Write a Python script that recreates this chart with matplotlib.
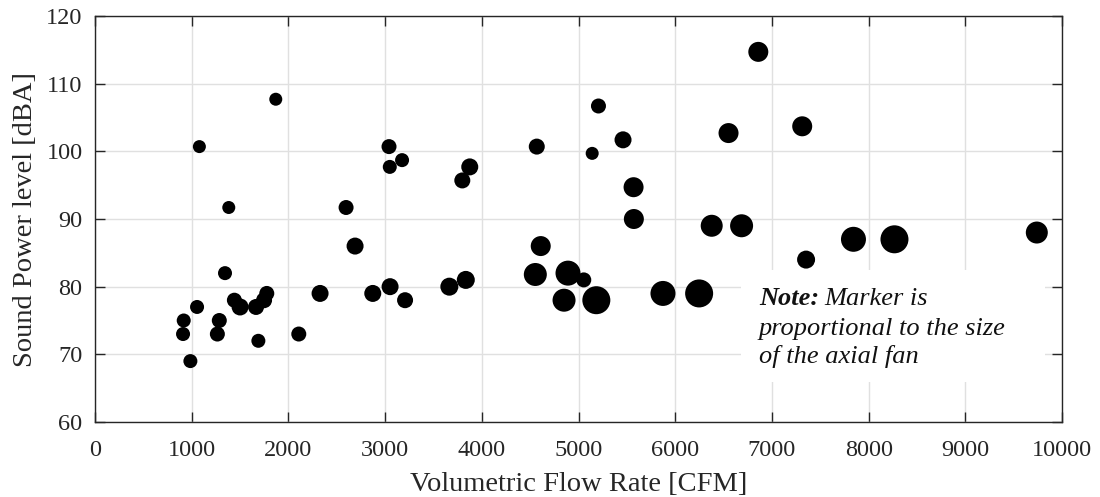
import numpy as np
import matplotlib.pyplot as plt
from matplotlib.patches import Rectangle

plt.rcParams['font.family'] = ['Liberation Serif', 'DejaVu Serif']

# flow rate [CFM], sound power [dBA], marker diameter (px) ~ fan size
flow = [1869, 1079, 1383, 1344, 917, 910, 986, 1055, 1285, 1265,
        1441, 1500, 1665, 1689, 1748, 1776, 2107, 2327, 2596, 2689,
        2872, 3051, 3206, 3040, 3048, 3175, 3798, 3875, 3664, 3834,
        4568, 4609, 4553, 4891, 4850, 5054, 6859, 5206, 5141, 5460,
        5569, 5572, 6551, 7313, 6377, 6686, 7353, 7843, 8267, 9739,
        5184, 5873, 6247]
spl = [107.7, 100.7, 91.7, 82, 75, 73, 69, 77, 75, 73,
       78, 77, 77, 72, 78, 79, 73, 79, 91.7, 86,
       79, 80, 78, 100.7, 97.7, 98.7, 95.7, 97.7, 80, 81,
       100.7, 86, 81.8, 82, 78, 81, 114.7, 106.7, 99.7, 101.7,
       94.7, 90, 102.7, 103.7, 89, 89, 84, 87, 87, 88,
       78, 79, 79]
fan_d = [13, 13, 13, 14, 14, 14, 14, 14, 15, 15,
         15, 17, 16, 14, 16, 15, 15, 17, 15, 17,
         17, 17, 16, 15, 14, 14, 16, 17, 18, 18,
         16, 20, 23, 25, 23, 15, 20, 15, 13, 17,
         20, 20, 20, 20, 22, 23, 18, 25, 28, 22,
         28, 25, 28]

fig = plt.figure(figsize=(11, 4.97), dpi=100)
ax = fig.add_axes([0.0864, 0.1509, 0.8791, 0.8169])

sizes = (np.array(fan_d) * 0.72) ** 2
ax.scatter(flow, spl, s=sizes, c='black', edgecolors='none', zorder=3)

ax.set_xlim(0, 10000)
ax.set_ylim(60, 120)
ax.set_xticks(np.arange(0, 10001, 1000))
ax.set_yticks(np.arange(60, 121, 10))
ax.grid(True, color='#e0e0e0', linewidth=1.0)
ax.set_axisbelow(True)
ax.tick_params(direction='in', top=True, right=True, length=7.5, width=1,
               labelsize=17.5, colors='#262626')
ax.tick_params(axis='x', pad=13)
ax.tick_params(axis='y', pad=9)
for sp in ax.spines.values():
    sp.set_color('#262626')
    sp.set_linewidth(1.0)

ax.set_xlabel('Volumetric Flow Rate [CFM]', fontsize=20.5, color='#262626', labelpad=8)
ax.set_ylabel('Sound Power level [dBA]', fontsize=20.5, color='#262626', labelpad=6)

# note box, drawn over the grid
ax.add_patch(Rectangle((6680, 65.9), 3140, 16.6, facecolor='white',
                       edgecolor='none', zorder=2))
note = ax.text(6866, 77.3, 'Note:', fontsize=19, fontweight='bold',
               style='italic', va='baseline', zorder=4, color='#111111')
ax.annotate('Marker is', xy=(1, 0), xycoords=note, xytext=(4, 0),
            textcoords='offset points', fontsize=19, style='italic',
            va='bottom', zorder=4, color='#111111')
ax.text(6866, 72.85, 'proportional to the size', fontsize=19, style='italic',
        va='baseline', zorder=4, color='#111111')
ax.text(6866, 68.7, 'of the axial fan', fontsize=19, style='italic',
        va='baseline', zorder=4, color='#111111')

fig.savefig('out.png', dpi=100)
